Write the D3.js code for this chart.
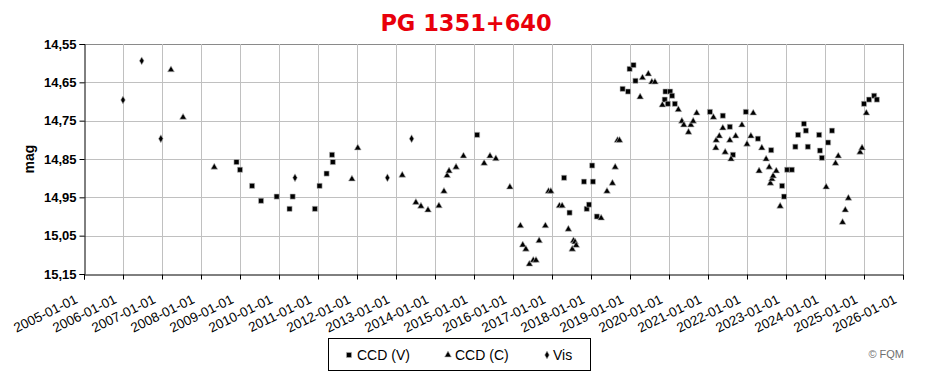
<!DOCTYPE html>
<html>
<head>
<meta charset="utf-8">
<script src="https://cdn.jsdelivr.net/npm/d3@7"></script>
<style>
  html, body { margin: 0; padding: 0; background: #fff; }
  svg { display: block; }
</style>
</head>
<body>
<svg id="chart" width="931" height="380"></svg>
<script>
// ---- Data (decimal year, magnitude) ----
const chartTitle = "PG 1351+640";
const yTickValues = [14.55, 14.65, 14.75, 14.85, 14.95, 15.05, 15.15];
const xTickYears = d3.range(2005, 2027);
const seriesNames = ["CCD (V)", "CCD (C)", "Vis"];

const ccdV = [
  [2008.91, 14.858], [2009.00, 14.878], [2009.31, 14.920], [2009.54, 14.959],
  [2009.94, 14.948], [2010.27, 14.980], [2010.35, 14.948], [2010.92, 14.980],
  [2011.04, 14.920], [2011.22, 14.888], [2011.36, 14.839], [2011.38, 14.858],
  [2015.08, 14.787], [2017.31, 14.899], [2017.45, 14.990], [2017.82, 14.909],
  [2017.89, 14.980], [2017.95, 14.969], [2018.03, 14.867], [2018.05, 14.909],
  [2018.15, 15.000], [2018.81, 14.667], [2018.95, 14.674], [2018.99, 14.615],
  [2019.09, 14.605], [2019.14, 14.646], [2019.89, 14.695], [2019.91, 14.674],
  [2019.97, 14.706], [2020.03, 14.674], [2020.08, 14.685], [2020.15, 14.706],
  [2021.05, 14.727], [2021.38, 14.737], [2021.56, 14.766], [2021.64, 14.839],
  [2021.97, 14.727], [2022.28, 14.797], [2022.62, 14.827], [2022.90, 14.920],
  [2022.95, 14.948], [2023.03, 14.878], [2023.15, 14.878], [2023.24, 14.818],
  [2023.31, 14.787], [2023.46, 14.758], [2023.51, 14.776], [2023.56, 14.818],
  [2023.85, 14.787], [2023.87, 14.828], [2023.92, 14.847], [2024.08, 14.807],
  [2024.18, 14.776], [2025.00, 14.706], [2025.13, 14.695], [2025.26, 14.685],
  [2025.33, 14.695]
];

const ccdC = [
  [2007.23, 14.616], [2007.54, 14.740], [2008.34, 14.870], [2011.87, 14.901],
  [2012.02, 14.820], [2013.16, 14.891], [2013.51, 14.962], [2013.64, 14.972],
  [2013.82, 14.982], [2014.10, 14.971], [2014.23, 14.933], [2014.31, 14.892],
  [2014.36, 14.880], [2014.54, 14.870], [2014.73, 14.841], [2015.26, 14.860],
  [2015.41, 14.841], [2015.56, 14.848], [2015.92, 14.922], [2016.19, 15.023],
  [2016.25, 15.073], [2016.33, 15.084], [2016.42, 15.123], [2016.52, 15.113],
  [2016.59, 15.113], [2016.67, 15.062], [2016.83, 15.023], [2016.91, 14.933],
  [2016.97, 14.933], [2017.19, 14.971], [2017.26, 14.971], [2017.42, 15.032],
  [2017.52, 15.084], [2017.55, 15.062], [2017.59, 15.065], [2017.62, 15.074],
  [2018.26, 15.003], [2018.41, 14.933], [2018.55, 14.912], [2018.62, 14.870],
  [2018.68, 14.800], [2018.73, 14.800], [2019.26, 14.687], [2019.32, 14.637],
  [2019.47, 14.627], [2019.56, 14.648], [2019.64, 14.648], [2019.83, 14.708],
  [2020.24, 14.720], [2020.33, 14.750], [2020.38, 14.760], [2020.50, 14.779],
  [2020.56, 14.760], [2020.62, 14.750], [2020.71, 14.729], [2021.14, 14.740],
  [2021.20, 14.820], [2021.21, 14.800], [2021.29, 14.789], [2021.38, 14.768],
  [2021.44, 14.831], [2021.56, 14.800], [2021.59, 14.849], [2021.71, 14.789],
  [2021.87, 14.760], [2022.00, 14.810], [2022.10, 14.789], [2022.16, 14.729],
  [2022.31, 14.880], [2022.38, 14.820], [2022.49, 14.849], [2022.57, 14.870],
  [2022.60, 14.912], [2022.64, 14.901], [2022.67, 14.893], [2022.75, 14.880],
  [2022.85, 14.972], [2024.03, 14.922], [2024.27, 14.860], [2024.34, 14.841],
  [2024.45, 15.014], [2024.52, 14.982], [2024.60, 14.951], [2024.90, 14.831],
  [2024.95, 14.820], [2025.06, 14.729]
];

const vis = [
  [2006.00, 14.696], [2006.48, 14.594], [2006.97, 14.797],
  [2010.41, 14.899], [2012.78, 14.899], [2013.40, 14.797]
];

// ---- Layout ----
const svg = d3.select("#chart");
const plot = { left: 84, right: 903, top: 44, bottom: 274 };

const x = d3.scaleLinear().domain([2005, 2026]).range([plot.left, plot.right]);
const y = d3.scaleLinear().domain([14.55, 15.15]).range([plot.top, plot.bottom]);

const fmtY = d => d3.format(".2f")(d).replace(".", ",");

// Title
svg.append("text")
  .attr("x", 466).attr("y", 31)
  .attr("text-anchor", "middle")
  .attr("font-family", "'DejaVu Sans', Verdana, sans-serif")
  .attr("font-weight", "bold")
  .attr("font-size", 22.5)
  .attr("fill", "#e8000b")
  .text(chartTitle);

// Grid
const grid = svg.append("g");
grid.selectAll("line.h").data(yTickValues.slice(0, -1)).join("line")
  .attr("x1", plot.left).attr("x2", plot.right)
  .attr("y1", d => Math.round(y(d)) + 0.5).attr("y2", d => Math.round(y(d)) + 0.5)
  .attr("stroke", d => d === 14.55 ? "#8a8a8a" : "#c0c0c0").attr("stroke-width", 1);
grid.selectAll("line.v").data(xTickYears.slice(1)).join("line")
  .attr("y1", plot.top).attr("y2", plot.bottom)
  .attr("x1", d => Math.round(x(d)) + 0.5).attr("x2", d => Math.round(x(d)) + 0.5)
  .attr("stroke", d => d === 2026 ? "#8a8a8a" : "#c0c0c0").attr("stroke-width", 1);

// Axes
const yAxis = d3.axisLeft(y).tickValues(yTickValues).tickFormat(fmtY).tickSize(5).tickPadding(3);
const gy = svg.append("g").attr("transform", `translate(${plot.left + 0.5},0)`).call(yAxis);
gy.select(".domain").attr("stroke", "#000");
gy.selectAll(".tick line").attr("stroke", "#000");
gy.selectAll(".tick text")
  .attr("font-family", "Arial, 'Liberation Sans', sans-serif")
  .attr("font-weight", "bold")
  .attr("font-size", 13)
  .attr("fill", "#000");

const xAxis = d3.axisBottom(x).tickValues(xTickYears).tickFormat(d => `${d}-01-01`).tickSize(5);
const gx = svg.append("g").attr("transform", `translate(0,${plot.bottom + 0.5})`).call(xAxis);
gx.select(".domain").attr("stroke", "#000");
gx.selectAll(".tick line").attr("stroke", "#000");
gx.selectAll(".tick text")
  .attr("font-family", "Arial, 'Liberation Sans', sans-serif")
  .attr("font-size", 13.5)
  .attr("fill", "#000")
  .attr("text-anchor", "end")
  .attr("dy", null)
  .attr("y", 0)
  .attr("transform", "translate(-6,28) rotate(-26)");

// Y axis title
svg.append("text")
  .attr("transform", "translate(34,159) rotate(-90)")
  .attr("text-anchor", "middle")
  .attr("font-family", "Arial, 'Liberation Sans', sans-serif")
  .attr("font-weight", "bold")
  .attr("font-size", 14)
  .text("mag");

// Markers
const symSquare = d3.symbol().type(d3.symbolSquare).size(26);
const symTri = d3.symbol().type(d3.symbolTriangle).size(20);
const symDiamond = d3.symbol().type(d3.symbolDiamond).size(18);

const marks = svg.append("g");
function drawSeries(data, sym, dy) {
  marks.append("g").selectAll("path").data(data).join("path")
    .attr("d", sym)
    .attr("transform", d => `translate(${x(d[0])},${y(d[1]) + (dy || 0)})`)
    .attr("fill", "#000")
    .attr("stroke", "#b8b8b8")
    .attr("stroke-width", 0.6);
}
drawSeries(ccdV, symSquare);
drawSeries(ccdC, symTri, 0.5);
drawSeries(vis, symDiamond);

// Legend
const legend = svg.append("g");
legend.append("rect")
  .attr("x", 328.5).attr("y", 338.5).attr("width", 262).attr("height", 32)
  .attr("fill", "#fff").attr("stroke", "#000");
const legendItems = [
  { name: seriesNames[0], sym: symSquare, mx: 349, tx: 357 },
  { name: seriesNames[1], sym: symTri, mx: 448, tx: 455 },
  { name: seriesNames[2], sym: symDiamond, mx: 547, tx: 553 }
];
legendItems.forEach(it => {
  legend.append("path").attr("d", it.sym())
    .attr("transform", `translate(${it.mx},355)`)
    .attr("fill", "#000").attr("stroke", "#b8b8b8").attr("stroke-width", 0.6);
  legend.append("text")
    .attr("x", it.tx).attr("y", 360)
    .attr("font-family", "Arial, 'Liberation Sans', sans-serif")
    .attr("font-size", 14)
    .text(it.name);
});

// Copyright
svg.append("text")
  .attr("x", 904).attr("y", 358)
  .attr("text-anchor", "end")
  .attr("font-family", "Arial, 'Liberation Sans', sans-serif")
  .attr("font-size", 11)
  .attr("fill", "#707070")
  .text("© FQM");
</script>
</body>
</html>
